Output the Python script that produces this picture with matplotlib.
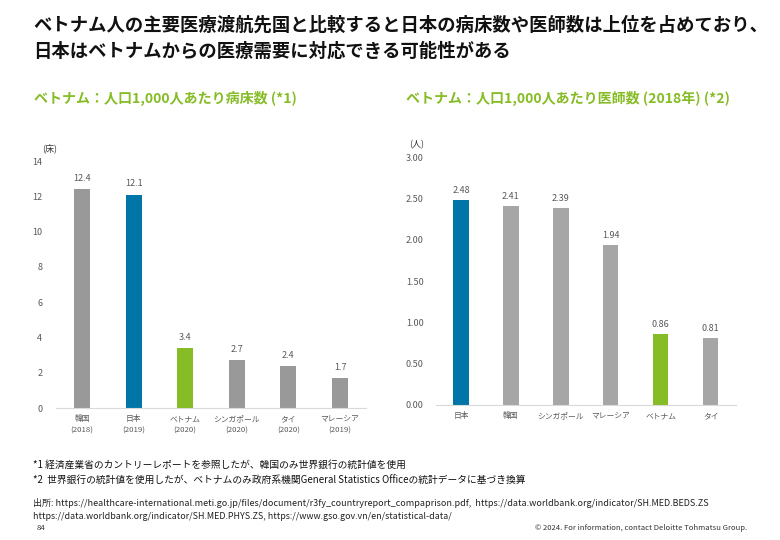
import numpy as np
import matplotlib
matplotlib.use('Agg')
import matplotlib.pyplot as plt

plt.rcParams['font.family'] = ['Noto Sans CJK JP', 'DejaVu Sans']

# ——— data ———
beds_countries = ['韓国', '日本', 'ベトナム', 'シンガポール', 'タイ', 'マレーシア']
beds_years = ['(2018)', '(2019)', '(2020)', '(2020)', '(2020)', '(2019)']
beds_values = [12.4, 12.1, 3.4, 2.7, 2.4, 1.7]

doc_countries = ['日本', '韓国', 'シンガポール', 'マレーシア', 'ベトナム', 'タイ']
doc_values = [2.48, 2.41, 2.39, 1.94, 0.86, 0.81]

BLUE = '#0076A8'
GREEN = '#86BC25'
GREY_L = '#999999'
GREY_R = '#A6A6A6'
TXT = '#595959'


def bar_colors(names, grey):
    out = []
    for n in names:
        if n == '日本':
            out.append(BLUE)
        elif n == 'ベトナム':
            out.append(GREEN)
        else:
            out.append(grey)
    return out


def style_ax(ax):
    for s in ['top', 'right', 'left']:
        ax.spines[s].set_visible(False)
    ax.spines['bottom'].set_color('#D9D9D9')
    ax.tick_params(axis='both', length=0, colors=TXT)
    ax.tick_params(axis='y', labelsize=6.5)
    ax.tick_params(axis='x', labelsize=5.6)


fig = plt.figure(figsize=(7.8, 5.4), dpi=100)

# ——— titles ———
fig.text(0.043, 0.953, 'ベトナム人の主要医療渡航先国と比較すると日本の病床数や医師数は上位を占めており、',
         fontsize=13.2, fontweight='bold', color='#111111', va='center')
fig.text(0.043, 0.906, '日本はベトナムからの医療需要に対応できる可能性がある',
         fontsize=13.2, fontweight='bold', color='#111111', va='center')
fig.text(0.044, 0.818, 'ベトナム：人口1,000人あたり病床数 (*1)',
         fontsize=10.1, fontweight='bold', color=GREEN, va='center')
fig.text(0.520, 0.818, 'ベトナム：人口1,000人あたり医師数 (2018年) (*2)',
         fontsize=10.1, fontweight='bold', color=GREEN, va='center')

# ——— left chart: beds ———
ax1 = fig.add_axes([0.072, 0.2444, 0.397, 0.4574])
x1 = np.arange(len(beds_values))
ax1.bar(x1, beds_values, width=0.31, color=bar_colors(beds_countries, GREY_L))
for xi, v in zip(x1, beds_values):
    ax1.text(xi, v + 0.35, f'{v:.1f}', ha='center', va='bottom', fontsize=6.5, color=TXT)
ax1.set_xlim(-0.5, len(beds_values) - 0.5)
ax1.set_ylim(0, 14)
ax1.set_yticks(np.arange(0, 15, 2))
ax1.set_xticks(x1)
ax1.set_xticklabels([f'{c}\n{y}' for c, y in zip(beds_countries, beds_years)],
                    linespacing=1.6)
style_ax(ax1)
ax1.tick_params(axis='y', pad=10)
ax1.tick_params(axis='x', pad=5)
ax1.text(-0.045, 1.03, '(床)', transform=ax1.transAxes, fontsize=6.5, color='#333333',
         ha='left', va='bottom')

# ——— right chart: doctors ———
ax2 = fig.add_axes([0.559, 0.25, 0.384, 0.459])
x2 = np.arange(len(doc_values))
ax2.bar(x2, doc_values, width=0.31, color=bar_colors(doc_countries, GREY_R))
for xi, v in zip(x2, doc_values):
    ax2.text(xi, v + 0.06, f'{v:.2f}', ha='center', va='bottom', fontsize=6.5, color=TXT)
ax2.set_xlim(-0.5, len(doc_values) - 0.5)
ax2.set_ylim(0, 3.0)
ax2.set_yticks(np.arange(0, 3.01, 0.5))
ax2.set_yticklabels([f'{t:.2f}' for t in np.arange(0, 3.01, 0.5)])
ax2.set_xticks(x2)
ax2.set_xticklabels(doc_countries)
style_ax(ax2)
ax2.tick_params(axis='y', pad=9)
ax2.tick_params(axis='x', pad=5)
ax2.text(-0.09, 1.03, '(人)', transform=ax2.transAxes, fontsize=6.5, color='#333333',
         ha='left', va='bottom')

# ——— footnotes ———
fig.text(0.042, 0.139, '*1 経済産業省のカントリーレポートを参照したが、韓国のみ世界銀行の統計値を使用',
         fontsize=7, color='#111111', va='center')
fig.text(0.042, 0.109, '*2  世界銀行の統計値を使用したが、ベトナムのみ政府系機関General Statistics Officeの統計データに基づき換算',
         fontsize=7, color='#111111', va='center')
fig.text(0.042, 0.069,
         '出所: https://healthcare-international.meti.go.jp/files/document/r3fy_countryreport_compaprison.pdf,  '
         'https://data.worldbank.org/indicator/SH.MED.BEDS.ZS',
         fontsize=6.5, color='#222222', va='center')
fig.text(0.042, 0.043, 'https://data.worldbank.org/indicator/SH.MED.PHYS.ZS, https://www.gso.gov.vn/en/statistical-data/',
         fontsize=6.4, color='#222222', va='center')
fig.text(0.047, 0.022, '84', fontsize=5.5, color='#333333', va='center')
fig.text(0.958, 0.022, '© 2024. For information, contact Deloitte Tohmatsu Group.',
         fontsize=5.5, color='#333333', va='center', ha='right')

fig.savefig('out.png', dpi=100, facecolor='white')
